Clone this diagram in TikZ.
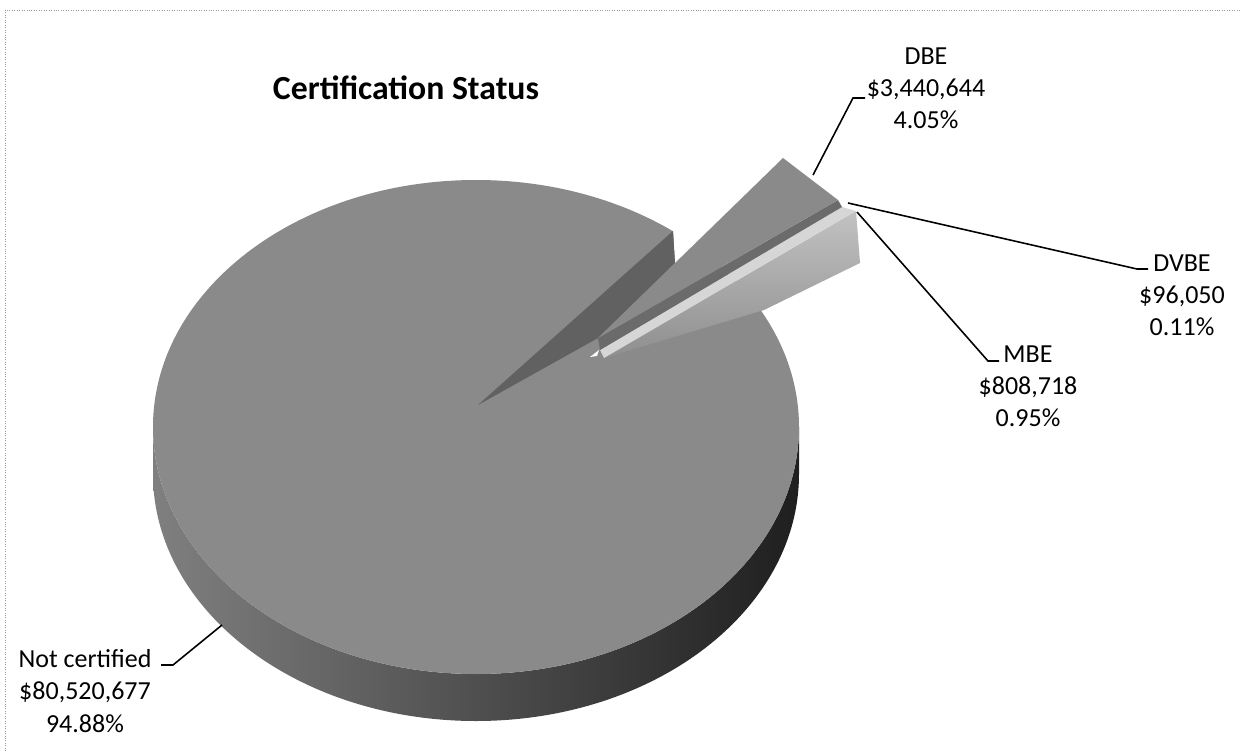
\documentclass[tikz,border=0pt]{standalone}
\usepackage{fontspec}
\setmainfont{Carlito}
\usepackage{tikz}
\usetikzlibrary{calc}
\tikzset{
    chart-title/.style = {font=\fontsize{19.2}{23}\selectfont\bfseries, inner sep=0pt},
    data-label/.style = {font=\fontsize{14.8}{18.3}\selectfont, align=center, inner sep=0pt},
    leader-line/.style = {black, line width=0.9pt},
    pie-top/.style = {fill=black!46},
    pie-cut/.style = {fill=black!62},
    pie-light/.style = {fill=black!16},
}

\begin{document}
\begin{tikzpicture}[x=0.02cm, y=0.02cm]
\useasboundingbox (0,0) rectangle (1242,-751);
\fill[white] (0,0) rectangle (1242,-751);
\draw[black!40, densely dotted] (5,-751) -- (5,-10) -- (1242,-10);

\coordinate (centre) at (476,-427);
\coordinate (apex) at (478,-405);

% side and top of the big slice
\shade[left color=black!50, right color=black!88]
    ($(centre)+(-323,0)$) arc[start angle=180, end angle=360, x radius=323, y radius=247]
    -- ++(0,-47) arc[start angle=360, end angle=180, x radius=323, y radius=247] -- cycle;
\fill[pie-top] (centre) ellipse[x radius=323, y radius=247];
\fill[white] (673,-229) -- (705,-229) -- (705,-262) -- (675,-263) -- cycle;
\fill[pie-cut] (apex) -- (673,-231) -- (675,-263) -- (598,-338) -- cycle;

% exploded slices
\shade[top color=black!24, bottom color=black!44] (604,-358) -- (856,-211) -- (860,-263) -- (764,-310) -- cycle;
\fill[pie-light] (600,-350) -- (842,-207) -- (856,-211) -- (604,-358) -- cycle;
\fill[black!58] (598,-338) -- (838,-200) -- (842,-207) -- (600,-350) -- cycle;
\fill[pie-top] (598,-338) -- (783,-158) -- (838,-200) -- cycle;
\fill[white] (590,-357) -- (599,-350) -- (597,-356) -- cycle;

\node[chart-title] (title) at (406,-88) {Certification Status};

\node[data-label] (dbe-label) at (926,-88) {DBE\\\$3,440,644\\4.05\%};
\node[data-label] (dvbe-label) at (1182,-295) {DVBE\\\$96,050\\0.11\%};
\node[data-label] (mbe-label) at (1028,-386) {MBE\\\$808,718\\0.95\%};
\node[data-label] (nc-label) at (85,-691) {Not certified\\\$80,520,677\\94.88\%};

\coordinate (dbe-tip) at (813,-175);
\coordinate (dbe-end) at (865,-98);
\coordinate (dvbe-tip) at (848,-203);
\coordinate (dvbe-end) at (1148,-269);
\coordinate (mbe-tip) at (857,-212);
\coordinate (mbe-end) at (999,-361);
\coordinate (nc-tip) at (222,-625);
\coordinate (nc-end) at (161,-665);

\draw[leader-line] (dbe-tip) -- (853,-98) -- (dbe-end);
\draw[leader-line] (dvbe-tip) -- (1137,-269) -- (dvbe-end);
\draw[leader-line] (mbe-tip) -- (988,-361) -- (mbe-end);
\draw[leader-line] (nc-tip) -- (173,-665) -- (nc-end);
\end{tikzpicture}
\end{document}
